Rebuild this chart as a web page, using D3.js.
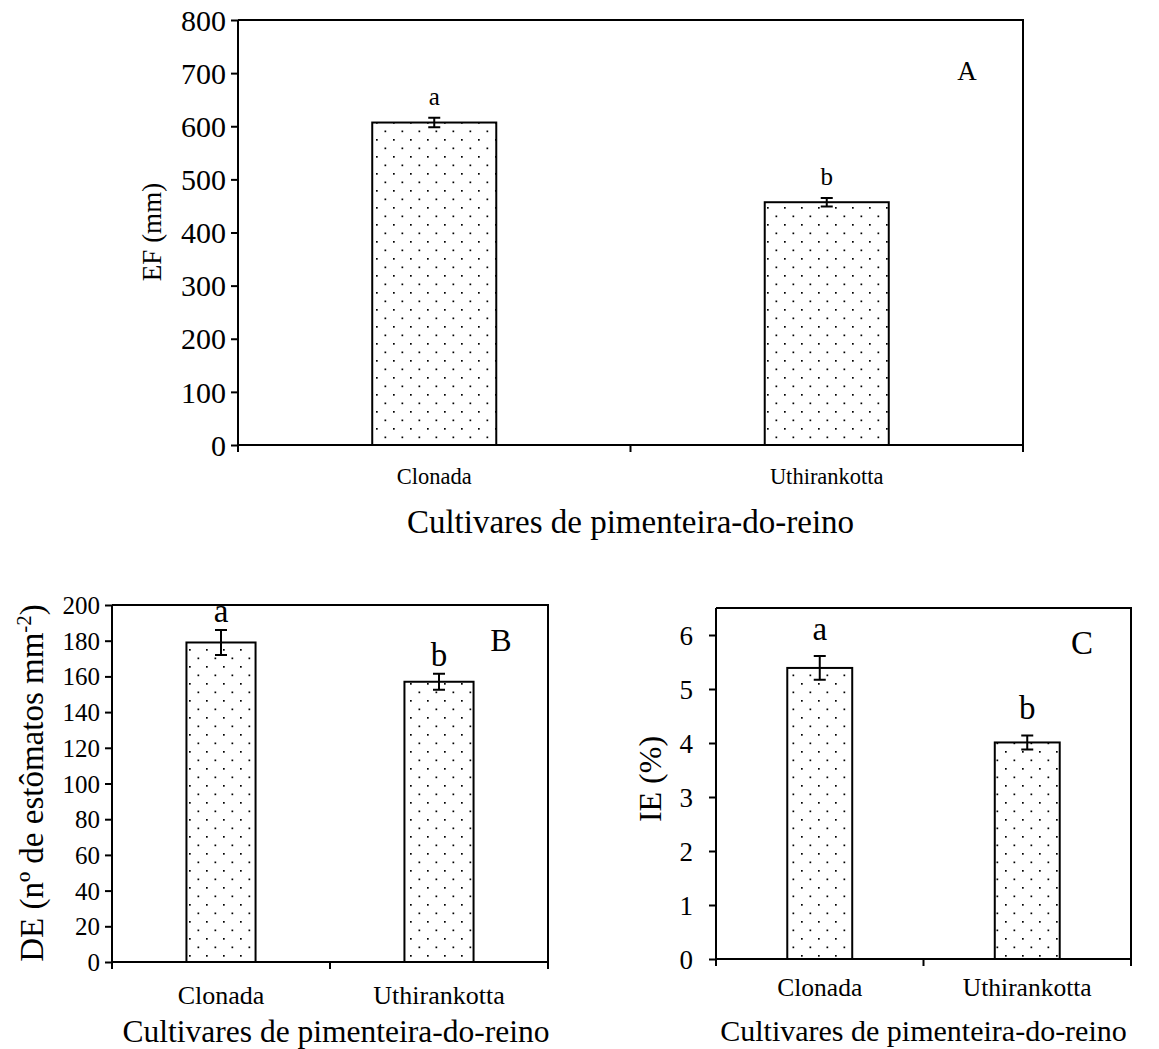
<!DOCTYPE html>
<html>
<head>
<meta charset="utf-8">
<script src="https://cdn.jsdelivr.net/npm/d3@7"></script>
<style>
  html, body { margin: 0; padding: 0; background: #fff; }
  svg text { font-family: "Liberation Serif", "DejaVu Serif", serif !important; fill: #000; }
</style>
</head>
<body>
<svg id="chart" width="1159" height="1049" font-family="Liberation Serif"></svg>
<script>
// ---------- data ----------
const categories = ["Clonada", "Uthirankotta"];
const xAxisTitle = "Cultivares de pimenteira-do-reino";

const efValues = [607, 457];
const efErrors = [9, 8];
const efLetters = ["a", "b"];
const efTicks = [0, 100, 200, 300, 400, 500, 600, 700, 800];

const deValues = [179, 157];
const deErrors = [7, 4.5];
const deLetters = ["a", "b"];
const deTicks = [0, 20, 40, 60, 80, 100, 120, 140, 160, 180, 200];

const ieValues = [5.39, 4.01];
const ieErrors = [0.22, 0.13];
const ieLetters = ["a", "b"];
const ieTicks = [0, 1, 2, 3, 4, 5, 6];

// ---------- drawing ----------
const FONT = "'Liberation Serif', 'DejaVu Serif', serif";
const svg = d3.select("#chart");
const defs = svg.append("defs");
const pat = defs.append("pattern")
  .attr("id", "dots").attr("patternUnits", "userSpaceOnUse")
  .attr("width", 17).attr("height", 17);
pat.append("rect").attr("width", 17).attr("height", 17).attr("fill", "#fff");
pat.append("rect").attr("x", 2).attr("y", 3).attr("width", 1.7).attr("height", 1.7).attr("fill", "#000");
pat.append("rect").attr("x", 10.5).attr("y", 11.5).attr("width", 1.7).attr("height", 1.7).attr("fill", "#000");

function txt(sel) { return sel.style("font-family", FONT).attr("fill", "#000"); }

function panel(o) {
  const g = svg.append("g");
  const x = d3.scaleBand().domain(categories).range([o.left, o.right]).paddingInner(0).paddingOuter(0);
  const y = d3.scaleLinear().domain(o.domain).range([o.bottom, o.top]);
  const bw = x.bandwidth() * o.barFrac;

  g.append("path")
    .attr("d", `M${o.left},${o.top}H${o.right}V${o.bottom}`)
    .attr("fill", "none").attr("stroke", "#000").attr("stroke-width", 2);

  g.selectAll(".bar").data(categories).enter().append("rect")
    .attr("x", d => x(d) + (x.bandwidth() - bw) / 2)
    .attr("y", (d, i) => y(o.values[i]))
    .attr("width", bw)
    .attr("height", (d, i) => y(0) - y(o.values[i]))
    .attr("fill", "url(#dots)").attr("stroke", "#000").attr("stroke-width", 2);

  categories.forEach((c, i) => {
    const cx = x(c) + x.bandwidth() / 2;
    const y1 = y(o.values[i] + o.errors[i]), y2 = y(o.values[i] - o.errors[i]);
    const cap = o.cap;
    g.append("path")
      .attr("d", `M${cx},${y1}V${y2}M${cx - cap},${y1}H${cx + cap}M${cx - cap},${y2}H${cx + cap}`)
      .attr("stroke", "#000").attr("stroke-width", 2).attr("fill", "none");
    txt(g.append("text"))
      .attr("x", cx).attr("y", y1 - o.letterGap)
      .attr("text-anchor", "middle").attr("font-size", o.letterSize)
      .text(o.letters[i]);
  });

  const ya = g.append("g").attr("transform", `translate(${o.left},0)`)
    .call(d3.axisLeft(y).tickValues(o.ticks).tickFormat(d3.format("d")).tickSize(7).tickSizeOuter(0).tickPadding(o.tickPad));
  ya.attr("font-family", null);
  ya.select(".domain").attr("stroke-width", 2).attr("d", `M0,${o.bottom}V${o.top}`);
  ya.selectAll(".tick line").attr("stroke-width", 2);
  txt(ya.selectAll(".tick text")).attr("font-size", o.tickSize).attr("dy", "0.34em");

  const xa = g.append("g").attr("transform", `translate(0,${o.bottom})`);
  xa.append("line").attr("x1", o.left).attr("x2", o.right).attr("stroke", "#000").attr("stroke-width", 2);
  const bounds = [o.left].concat(categories.map(c => x(c) + x.bandwidth()));
  xa.selectAll(".xt").data(bounds).enter().append("line")
    .attr("x1", d => d).attr("x2", d => d).attr("y1", 0).attr("y2", 7)
    .attr("stroke", "#000").attr("stroke-width", 2);
  txt(xa.selectAll(".xl").data(categories).enter().append("text"))
    .attr("x", d => x(d) + x.bandwidth() / 2).attr("y", o.xLabelY)
    .attr("text-anchor", "middle").attr("font-size", o.xTickSize).text(d => d);

  txt(g.append("text")).attr("x", (o.left + o.right) / 2 + o.xTitleDx).attr("y", o.bottom + o.xTitleY)
    .attr("text-anchor", "middle").attr("font-size", o.titleSize).text(xAxisTitle);
  const yt = txt(g.append("text"))
    .attr("transform", `translate(${o.yTitleX},${o.yTitleY}) rotate(-90)`)
    .attr("text-anchor", "middle").attr("font-size", o.yTitleSize);
  o.yTitle(yt);

  txt(g.append("text")).attr("x", o.tagX).attr("y", o.tagY).attr("text-anchor", "middle")
    .attr("font-size", o.tagSize).text(o.tag);
}

panel({
  left: 238, right: 1023, top: 20, bottom: 445, domain: [0, 800], ticks: efTicks,
  values: efValues, errors: efErrors, letters: efLetters, barFrac: 0.316, cap: 6,
  letterGap: 13, letterSize: 25, tickSize: 30, tickPad: 5, xTickSize: 22.5, xLabelY: 39,
  titleSize: 33, xTitleY: 88, xTitleDx: 0, yTitleSize: 27, yTitleX: 161, yTitleY: 232,
  yTitle: t => t.text("EF (mm)"), tag: "A", tagX: 967, tagY: 80, tagSize: 27
});

panel({
  left: 112, right: 548, top: 605, bottom: 962, domain: [0, 200], ticks: deTicks,
  values: deValues, errors: deErrors, letters: deLetters, barFrac: 0.317, cap: 6,
  letterGap: 8, letterSize: 33, tickSize: 25, tickPad: 5, xTickSize: 26, xLabelY: 42,
  titleSize: 31.5, xTitleY: 80, xTitleDx: 6, yTitleSize: 33, yTitleX: 43, yTitleY: 783,
  yTitle: t => { t.append("tspan").text("DE (nº de estômatos mm");
                 t.append("tspan").attr("dy", -12).attr("font-size", 21).text("-2");
                 t.append("tspan").attr("dy", 12).text(")"); },
  tag: "B", tagX: 501, tagY: 651, tagSize: 32
});

panel({
  left: 716, right: 1131, top: 608, bottom: 959, domain: [0, 6.5], ticks: ieTicks,
  values: ieValues, errors: ieErrors, letters: ieLetters, barFrac: 0.313, cap: 6,
  letterGap: 16, letterSize: 33, tickSize: 27, tickPad: 16, xTickSize: 25.5, xLabelY: 37,
  titleSize: 30, xTitleY: 82, xTitleDx: 0, yTitleSize: 32, yTitleX: 661, yTitleY: 779,
  yTitle: t => t.text("IE (%)"), tag: "C", tagX: 1082, tagY: 654, tagSize: 33
});
</script>
</body>
</html>
